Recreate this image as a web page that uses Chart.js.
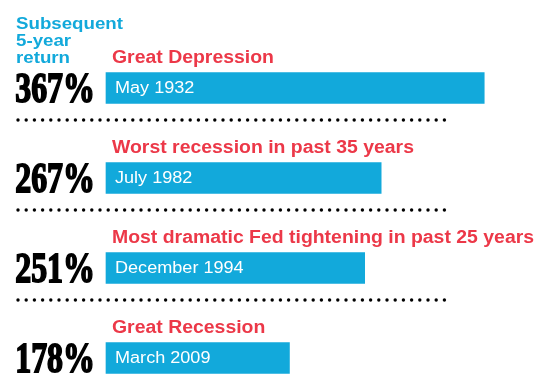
<!DOCTYPE html>
<html>
<head>
<meta charset="utf-8">
<script src="https://cdn.jsdelivr.net/npm/chart.js@4"></script>
<style>
  html, body { margin: 0; padding: 0; background: #fff; }
  #wrap { width: 548px; height: 391px; position: relative; }
</style>
</head>
<body>
<div id="wrap"><canvas id="returnsChart"></canvas></div>
<script>
const events = ['Great Depression', 'Worst recession in past 35 years', 'Most dramatic Fed tightening in past 25 years', 'Great Recession'];
const startDates = ['May 1932', 'July 1982', 'December 1994', 'March 2009'];
const fiveYearReturn = [367, 267, 251, 178];
const headerLines = ['Subsequent', '5-year', 'return'];

const blue = '#12a9db';
const red = '#ec3848';

// draw text stretched horizontally (the original face is wider than Arial)
function wideText(ctx, text, x, y, sx) {
  ctx.save();
  ctx.translate(x, y);
  ctx.scale(sx, 1);
  ctx.fillText(text, 0, 0);
  ctx.restore();
}

// text, big numbers and dotted separators drawn on top of the bars
const rowText = {
  id: 'rowText',
  afterDatasetsDraw(chart) {
    const ctx = chart.ctx;
    const x = chart.scales.x;
    const y = chart.scales.y;
    const x0 = x.getPixelForValue(0);
    ctx.save();
    ctx.textBaseline = 'alphabetic';
    ctx.textAlign = 'left';
    ctx.fillStyle = blue;
    ctx.font = 'bold 17px "Liberation Sans", Arial, sans-serif';
    headerLines.forEach((t, i) => wideText(ctx, t, 16, 29 + i * 17, 1.1));

    fiveYearReturn.forEach((v, i) => {
      const cy = y.getPixelForValue(i);
      ctx.fillStyle = red;
      ctx.font = 'bold 17.5px "Liberation Sans", Arial, sans-serif';
      ctx.textAlign = 'left';
      wideText(ctx, events[i], x0 + 6, cy - 25, 1.11);

      ctx.fillStyle = '#fff';
      ctx.font = '16px "Liberation Sans", Arial, sans-serif';
      wideText(ctx, startDates[i], x0 + 9, cy + 5, 1.13);

      ctx.save();
      ctx.translate(95, cy + 14);
      ctx.scale(0.76, 1);
      ctx.font = 'bold 42px "Liberation Serif", serif';
      ctx.textAlign = 'right';
      ctx.fillStyle = '#000';
      ctx.strokeStyle = '#000';
      ctx.lineWidth = 1.8;
      ctx.fillText(v + '%', 0, 0);
      ctx.strokeText(v + '%', 0, 0);
      ctx.restore();

      if (i < fiveYearReturn.length - 1) {
        ctx.fillStyle = '#000';
        const dy = cy + 32;
        for (let dx = 18; dx <= 450; dx += 8.2) {
          ctx.beginPath();
          ctx.arc(dx, dy, 1.7, 0, Math.PI * 2);
          ctx.fill();
        }
      }
    });
    ctx.restore();
  }
};

const ctx = document.getElementById('returnsChart');
new Chart(ctx, {
  type: 'bar',
  data: {
    labels: events,
    datasets: [{
      label: 'Subsequent 5-year return',
      data: fiveYearReturn,
      backgroundColor: blue,
      barThickness: 31,
      borderWidth: 0,
      clip: false
    }]
  },
  options: {
    indexAxis: 'y',
    responsive: true,
    maintainAspectRatio: false,
    animation: false,
    layout: { padding: { left: 106, right: 4, top: 88, bottom: 33 } },
    scales: {
      x: { min: 0, max: 425, display: false },
      y: { display: false, offset: false }
    },
    plugins: {
      legend: { display: false },
      tooltip: { enabled: false }
    }
  },
  plugins: [rowText]
});
</script>
</body>
</html>
